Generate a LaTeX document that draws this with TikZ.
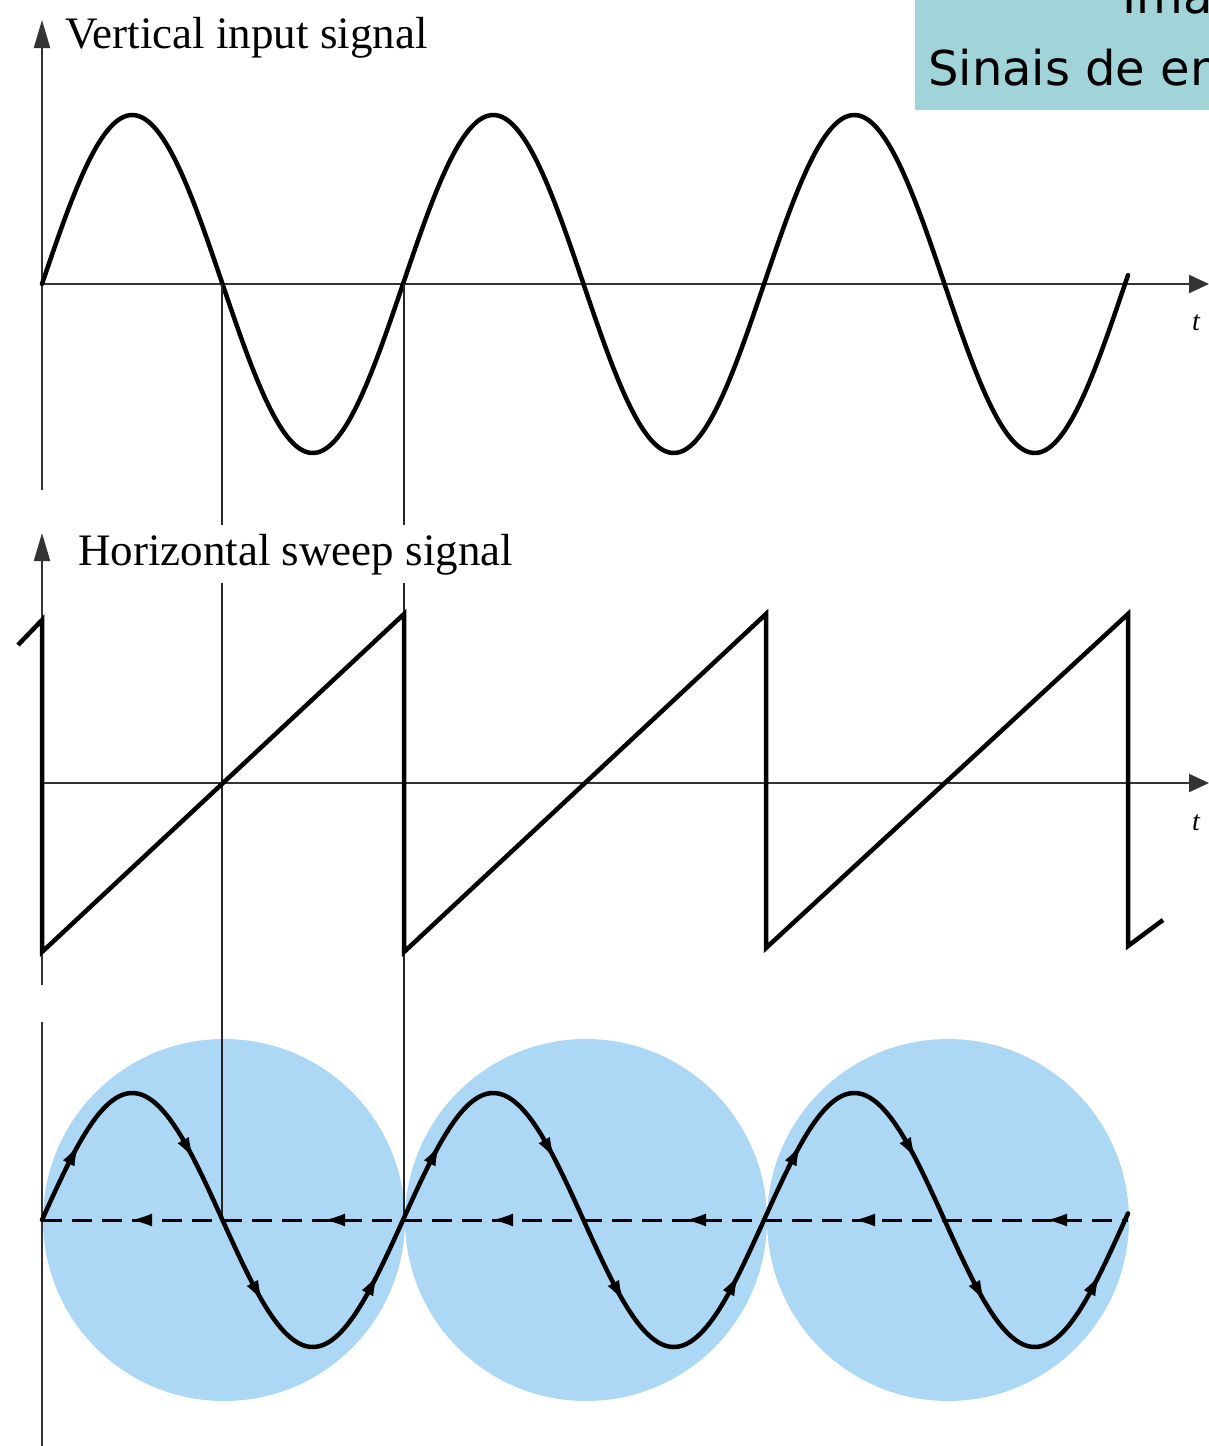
\documentclass[tikz,border=0pt]{standalone}
\usepackage{fontspec}
\setmainfont{Liberation Serif}
\newfontfamily\boxfont{DejaVu Sans}
\usetikzlibrary{arrows.meta}
\definecolor{boxcol}{RGB}{160,212,216}
\definecolor{circcol}{RGB}{173,216,245}
\begin{document}
\begin{tikzpicture}[x=1pt,y=-1pt,
  axisline/.style={line width=2.2pt, black!80},
  vtip/.style={-{Triangle[length=28pt,width=16pt]}},
  htip/.style={-{Triangle[length=20pt,width=18pt]}},
  wave/.style={line width=4.5pt, line join=round, line cap=round},
  guide/.style={line width=1.8pt, black!85},
  labeltext/.style={anchor=base west, inner sep=0pt, font=\fontsize{45}{50}\selectfont},
  tlabel/.style={anchor=base, inner sep=0pt, font=\itshape\fontsize{28}{30}\selectfont},
  boxtext/.style={anchor=base west, inner sep=0pt, font=\boxfont\fontsize{48}{54}\selectfont},
  headonly/.style={line width=1pt, -{Latex[length=20pt,width=13pt]}}
]
\useasboundingbox (0,0) rectangle (1209,1446);
\clip (0,0) rectangle (1209,1446);

% ---------- top-right caption box ----------
\node[fill=boxcol, anchor=north west, minimum width=294pt, minimum height=110pt, inner sep=0pt] (box) at (915,0) {};
\node[boxtext] (boxtop) at (1122,13) {Imagem};
\node[boxtext] (boxbot) at (928,85) {Sinais de entrada};

% ---------- top panel: vertical input ----------
\coordinate (v0) at (42,490);
\coordinate (v1) at (42,20);
\coordinate (h0) at (42,284);
\coordinate (h1) at (1209,284);
\draw[axisline, vtip] (v0) -- (v1);
\draw[axisline, htip] (h0) -- (h1);
\node[labeltext] (vlab) at (65,48) {Vertical input signal};
\node[tlabel] (t1) at (1196,330) {t};
\draw[wave] plot[domain=42:1128, samples=400] (\x, {284-169*sin((\x-42)/361*360)});

% ---------- middle panel: horizontal sweep ----------
\coordinate (m0) at (42,985);
\coordinate (m1) at (42,533);
\coordinate (mh0) at (42,783);
\coordinate (mh1) at (1209,783);
\draw[axisline, vtip] (m0) -- (m1);
\draw[axisline, htip] (mh0) -- (mh1);
\node[labeltext] (hlab) at (78,565) {Horizontal sweep signal};
\node[tlabel] (t2) at (1196,830) {t};

% ---------- bottom panel ----------
\fill[circcol] (224,1220) circle (181pt);
\fill[circcol] (586,1220) circle (181pt);
\fill[circcol] (948,1220) circle (181pt);
\coordinate (b0) at (42,1022);
\coordinate (b1) at (42,1446);
\draw[axisline] (b0) -- (b1);

% guide lines
\coordinate (ga0) at (222,284);
\coordinate (ga1) at (222,525);
\coordinate (ga2) at (222,583);
\coordinate (ga3) at (222,1220);
\coordinate (gb0) at (404,284);
\coordinate (gb1) at (404,525);
\coordinate (gb2) at (404,583);
\coordinate (gb3) at (404,1220);
\draw[guide] (ga0) -- (ga1);
\draw[guide] (ga2) -- (ga3);
\draw[guide] (gb0) -- (gb1);
\draw[guide] (gb2) -- (gb3);

% sawtooth
\draw[wave, line cap=butt, line join=miter, miter limit=6] (18,645) -- (42,620) -- (42,952) -- (404,614) -- (404,952) -- (766,614) -- (766,948) -- (1128,614) -- (1128,946) -- (1163,920);

% dashed return trace
\coordinate (d0) at (42,1220);
\coordinate (d1) at (1128,1220);
\draw[line width=3pt, dash pattern=on 20pt off 10pt] (d0) -- (d1);
\foreach \xx in {132,325,493,686,855,1047}{
  \draw[headonly] (\xx+14,1220) -- (\xx,1220);
}

% bottom sine
\draw[wave] plot[domain=42:1128, samples=400] (\x, {1220-127*sin((\x-42)/361*360)});
\foreach \k in {0,1,2}{
  \foreach \o in {36,151,220,335}{
    \pgfmathsetmacro{\xe}{42+\o+361*\k}
    \pgfmathsetmacro{\xs}{\xe-12}
    \pgfmathsetmacro{\ye}{1220-127*sin((\xe-42)/361*360)}
    \pgfmathsetmacro{\ys}{1220-127*sin((\xs-42)/361*360)}
    \draw[headonly] (\xs,\ys) -- (\xe,\ye);
  }
}
\end{tikzpicture}
\end{document}
